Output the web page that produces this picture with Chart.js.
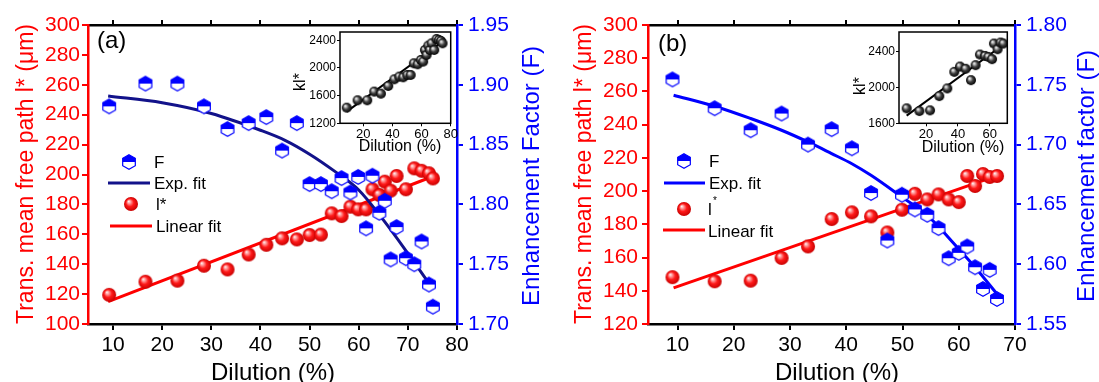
<!DOCTYPE html>
<html>
<head>
<meta charset="utf-8">
<script src="https://cdn.jsdelivr.net/npm/chart.js@4.4.0/dist/chart.umd.min.js"></script>
<style>
html, body { margin: 0; padding: 0; background: #fff; }
#wrap { position: relative; width: 1099px; height: 382px; overflow: hidden; background: #fff; }
#wrap canvas { position: absolute; }
</style>
</head>
<body>
<div id="wrap">
  <canvas id="mainA" width="550" height="382" style="left:0;top:0"></canvas>
  <canvas id="mainB" width="549" height="382" style="left:550px;top:0"></canvas>
  <canvas id="insetA" width="175" height="140" style="left:285px;top:20px"></canvas>
  <canvas id="insetB" width="172" height="140" style="left:845px;top:20px"></canvas>
</div>
<script>
// ---- panel (a) data ----
const A_DILUTION = [9.2, 16.6, 23.1, 28.5, 33.3, 37.6, 41.2, 44.4, 47.4, 50.0, 52.3, 54.5, 56.5,
  58.3, 59.9, 61.5, 62.8, 64.2, 65.3, 66.5, 67.7, 69.6, 71.3, 72.8, 74.3, 75.1];
const A_LSTAR = [119.5, 128.3, 129.0, 139.0, 136.5, 146.5, 153.0, 157.3, 156.6, 159.5, 159.8, 174.0, 172.2,
  178.5, 176.7, 176.7, 190.1, 186.3, 195.2, 189.2, 199.0, 190.1, 204.1, 202.5, 200.8, 197.4];
const A_F = [1.882, 1.901, 1.901, 1.882, 1.863, 1.868, 1.873, 1.845, 1.868, 1.817, 1.817, 1.811, 1.822,
  1.810, 1.823, 1.780, 1.824, 1.793, 1.803, 1.754, 1.781, 1.755, 1.750, 1.769, 1.733, 1.7145];
const A_EXP_X = [9, 20, 30, 40, 45, 50, 55, 60, 65, 70, 75];
const A_EXP_F = [1.8906, 1.885, 1.876, 1.862, 1.8536, 1.842, 1.828, 1.812, 1.787, 1.759, 1.7298];
const A_LIN_X = [9, 75.3];
const A_LIN_L = [115, 199];
const A_INSET_X = [8.6, 16.1, 22.7, 27.5, 32.1, 37.1, 41.3, 44.7, 47.4, 50.2, 52.5, 54.7, 57.3,
  59.5, 61.1, 62.3, 63.4, 64.6, 65.7, 66.9, 68.7, 70.3, 71.9, 73.3, 74.4];
const A_INSET_KL = [1426, 1533, 1533, 1658, 1629, 1740, 1836, 1875, 1865, 1899, 1899, 2068, 2053,
  2116, 2092, 2260, 2188, 2323, 2260, 2357, 2260, 2419, 2405, 2390, 2357];
const A_INSET_FIT_X = [8.6, 76];
const A_INSET_FIT_KL = [1369, 2405];
const A_X_TICKS = [10, 20, 30, 40, 50, 60, 70, 80];
const A_L_TICKS = [100, 120, 140, 160, 180, 200, 220, 240, 260, 280, 300];
const A_F_TICKS = [1.70, 1.75, 1.80, 1.85, 1.90, 1.95];
const A_INSET_X_TICKS = [20, 40, 60, 80];
const A_INSET_Y_TICKS = [1200, 1600, 2000, 2400];

// ---- panel (b) data ----
const B_DILUTION = [9.1, 16.6, 23.0, 28.5, 33.2, 37.4, 41.0, 44.4, 47.3, 49.9, 52.2, 54.4, 56.4,
  58.2, 60.0, 61.5, 62.9, 64.3, 65.5, 66.8];
const B_LSTAR = [148.2, 145.7, 146.1, 159.8, 166.7, 183.2, 187.2, 184.8, 175.1, 188.8, 198.4, 195.0, 198.0,
  195.0, 193.4, 209.1, 203.1, 210.3, 208.5, 209.1];
const B_F = [1.7545, 1.7304, 1.712, 1.726, 1.700, 1.7129, 1.6969, 1.6595, 1.6198, 1.6581, 1.6458, 1.6413, 1.6302,
  1.605, 1.6095, 1.6148, 1.5975, 1.5793, 1.5953, 1.5709];
const B_EXP_X = [9.3, 16.6, 23, 28.5, 33.2, 37.4, 41, 44.4, 49.9, 54.4, 60, 62.9, 66.8];
const B_EXP_F = [1.7413, 1.7321, 1.7218, 1.712, 1.7022, 1.6925, 1.684, 1.6743, 1.6561, 1.6408, 1.6128, 1.5975, 1.5751];
const B_LIN_X = [9.3, 67];
const B_LIN_L = [141.7, 209.5];
const B_INSET_X = [7.8, 15.8, 22.5, 28.3, 33.3, 37.7, 41.3, 44.8, 48.2, 51.1, 53.8, 57.0, 59.1,
  61.4, 62.6, 64.9, 66.8, 68.5];
const B_INSET_KL = [1766, 1736, 1744, 1902, 1987, 2171, 2230, 2205, 2079, 2245, 2363, 2348, 2337,
  2312, 2485, 2422, 2496, 2485];
const B_INSET_FIT_X = [7.8, 69.5];
const B_INSET_FIT_KL = [1685, 2485];
const B_X_TICKS = [10, 20, 30, 40, 50, 60, 70];
const B_L_TICKS = [120, 140, 160, 180, 200, 220, 240, 260, 280, 300];
const B_F_TICKS = [1.55, 1.60, 1.65, 1.70, 1.75, 1.80];
const B_INSET_X_TICKS = [20, 40, 60];
const B_INSET_Y_TICKS = [1600, 2000, 2400];

const RED = '#ff0000';
const BLUE = '#0000ff';
const NAVY = '#12128a';
const FONT = "'Liberation Sans', Arial, sans-serif";

Chart.defaults.font.family = FONT;

function pts(xs, ys) {
  return xs.map((x, i) => ({ x: x, y: ys[i] }));
}

// shaded ball marker
function ball(r, light, mid, dark) {
  const c = document.createElement('canvas');
  const s = Math.ceil(r * 2 + 2);
  c.width = s; c.height = s;
  const g = c.getContext('2d');
  const cx = s / 2, cy = s / 2;
  const grad = g.createRadialGradient(cx - r * 0.35, cy - r * 0.4, 0, cx, cy, r);
  grad.addColorStop(0, '#ffffff');
  grad.addColorStop(0.18, light);
  grad.addColorStop(0.55, mid);
  grad.addColorStop(1, dark);
  g.fillStyle = grad;
  g.beginPath();
  g.arc(cx, cy, r, 0, Math.PI * 2);
  g.fill();
  return c;
}

// hexagon, top half filled
function hexMarker(r, color) {
  const c = document.createElement('canvas');
  const w = Math.ceil(r * 1.732 + 3), h = Math.ceil(r * 2 + 3);
  c.width = w; c.height = h;
  const g = c.getContext('2d');
  const cx = w / 2, cy = h / 2, dx = r * 0.866;
  g.fillStyle = '#fff';
  g.strokeStyle = color;
  g.lineWidth = 1.2;
  g.beginPath();
  g.moveTo(cx, cy - r); g.lineTo(cx + dx, cy - r / 2); g.lineTo(cx + dx, cy + r / 2);
  g.lineTo(cx, cy + r); g.lineTo(cx - dx, cy + r / 2); g.lineTo(cx - dx, cy - r / 2);
  g.closePath();
  g.fill();
  g.stroke();
  g.fillStyle = color;
  g.beginPath();
  g.moveTo(cx, cy - r); g.lineTo(cx + dx, cy - r / 2); g.lineTo(cx + dx, cy);
  g.lineTo(cx - dx, cy); g.lineTo(cx - dx, cy - r / 2);
  g.closePath();
  g.fill();
  return c;
}

const RED_BALL = ball(7, '#ffb4b4', '#ff1a1a', '#c80000');
const BLACK_BALL = ball(5, '#d0d0d0', '#404040', '#000000');
const HEX = hexMarker(7.3, BLUE);

// texts, legend marks and titles drawn on the canvas
const deco = {
  id: 'deco',
  afterDraw(chart, args, opts) {
    const g = chart.ctx;
    (opts.marks || []).forEach(m => {
      if (m.img) {
        g.drawImage(m.img, m.x - m.img.width / 2, m.y - m.img.height / 2);
      } else {
        g.save();
        g.strokeStyle = m.color;
        g.lineWidth = m.width;
        g.beginPath();
        g.moveTo(m.x1, m.y);
        g.lineTo(m.x2, m.y);
        g.stroke();
        g.restore();
      }
    });
    (opts.texts || []).forEach(t => {
      g.save();
      g.translate(t.x, t.y);
      g.rotate(t.rot || 0);
      g.font = t.size + 'px ' + FONT;
      g.fillStyle = t.color || '#000';
      g.textAlign = t.align || 'center';
      g.textBaseline = 'alphabetic';
      g.fillText(t.text, 0, 0);
      g.restore();
    });
  }
};

// white box behind the inset and its frame
const frame = {
  id: 'frame',
  beforeDraw(chart) {
    const a = chart.chartArea, g = chart.ctx;
    g.save();
    g.fillStyle = '#fff';
    g.fillRect(a.left, a.top, a.right - a.left, a.bottom - a.top);
    g.restore();
  },
  afterDraw(chart) {
    const a = chart.chartArea, g = chart.ctx;
    g.save();
    g.strokeStyle = '#000';
    g.lineWidth = 1.5;
    g.strokeRect(a.left, a.top, a.right - a.left, a.bottom - a.top);
    g.restore();
  }
};

function yAxis(pos, min, max, ticks, color, width, pad, fmt) {
  return {
    type: 'linear', axis: 'y', position: pos, min: min, max: max,
    afterBuildTicks: s => { s.ticks = ticks.map(v => ({ value: v })); },
    afterFit: s => { s.width = width; },
    border: { color: color, width: 2.5 },
    grid: { drawOnChartArea: false, color: color, lineWidth: 2, tickLength: 6 },
    ticks: { color: color, font: { size: 21 }, padding: pad, callback: fmt }
  };
}

function mainChart(id, p) {
  return new Chart(document.getElementById(id), {
    type: 'scatter',
    data: {
      datasets: [
        { label: 'F', data: pts(p.dil, p.f), xAxisID: 'x', yAxisID: 'yR',
          pointStyle: HEX, pointRadius: 7 },
        { label: 'Exp. fit', data: pts(p.expX, p.expF), xAxisID: 'x', yAxisID: 'yR',
          showLine: true, pointRadius: 0, borderColor: p.expColor, borderWidth: 3,
          cubicInterpolationMode: 'monotone' },
        { label: 'l*', data: pts(p.dil, p.lstar), xAxisID: 'x', yAxisID: 'yL',
          pointStyle: RED_BALL, pointRadius: 7 },
        { label: 'Linear fit', data: pts(p.linX, p.linL), xAxisID: 'x', yAxisID: 'yL',
          showLine: true, pointRadius: 0, borderColor: RED, borderWidth: 3 }
      ]
    },
    options: {
      responsive: false,
      animation: false,
      events: [],
      layout: { padding: 0 },
      plugins: {
        legend: { display: false },
        tooltip: { enabled: false },
        deco: { marks: p.marks, texts: p.texts }
      },
      scales: {
        x: {
          type: 'linear', axis: 'x', position: 'bottom', min: p.xMin, max: p.xMax,
          afterBuildTicks: s => { s.ticks = p.xTicks.map(v => ({ value: v })); },
          afterFit: s => { s.height = 58; },
          border: { color: '#000', width: 2.5 },
          grid: { drawOnChartArea: false, color: '#000', lineWidth: 2, tickLength: 6 },
          ticks: { color: '#000', font: { size: 21 }, padding: 3, maxRotation: 0 }
        },
        xTop: {
          type: 'linear', axis: 'x', position: 'top', min: p.xMin, max: p.xMax,
          afterBuildTicks: s => { s.ticks = p.xTicks.map(v => ({ value: v })); },
          afterFit: s => { s.height = 25; },
          border: { color: '#000', width: 2.5 },
          grid: { drawOnChartArea: false, color: '#000', lineWidth: 2, tickLength: 5 },
          ticks: { display: false }
        },
        yL: yAxis('left', p.lMin, p.lMax, p.lTicks, RED, p.leftW, p.leftPad, v => String(v)),
        yR: yAxis('right', p.fMin, p.fMax, p.fTicks, BLUE, p.rightW, 5, v => v.toFixed(2))
      }
    },
    plugins: [deco]
  });
}

function insetChart(id, p) {
  return new Chart(document.getElementById(id), {
    type: 'scatter',
    data: {
      datasets: [
        { data: pts(p.x, p.kl), pointStyle: BLACK_BALL, pointRadius: 4 },
        { data: pts(p.fitX, p.fitKl), showLine: true, pointRadius: 0,
          borderColor: '#000', borderWidth: 2 }
      ]
    },
    options: {
      responsive: false,
      animation: false,
      events: [],
      layout: { padding: { top: 12, right: p.padRight, left: 0, bottom: 0 } },
      plugins: {
        legend: { display: false },
        tooltip: { enabled: false },
        deco: { texts: p.texts }
      },
      scales: {
        x: {
          type: 'linear', min: p.xMin, max: p.xMax,
          afterBuildTicks: s => { s.ticks = p.xTicks.map(v => ({ value: v })); },
          afterFit: s => { s.height = p.xh; },
          border: { display: false },
          grid: { drawOnChartArea: false, color: '#000', tickLength: 3 },
          ticks: { color: '#000', font: { size: 13 }, padding: 0, maxRotation: 0, callback: v => String(v) }
        },
        y: {
          type: 'linear', min: p.yMin, max: p.yMax,
          afterBuildTicks: s => { s.ticks = p.yTicks.map(v => ({ value: v })); },
          afterFit: s => { s.width = p.yw; },
          border: { display: false },
          grid: { drawOnChartArea: false, color: '#000', tickLength: 3 },
          ticks: { color: '#000', font: { size: 12 }, padding: 1, callback: v => String(v) }
        }
      }
    },
    plugins: [frame, deco]
  });
}

mainChart('mainA', {
  dil: A_DILUTION, lstar: A_LSTAR, f: A_F,
  expX: A_EXP_X, expF: A_EXP_F, expColor: NAVY,
  linX: A_LIN_X, linL: A_LIN_L,
  xMin: 4.9, xMax: 80, xTicks: A_X_TICKS,
  lMin: 100, lMax: 300, lTicks: A_L_TICKS,
  fMin: 1.70, fMax: 1.95, fTicks: A_F_TICKS,
  leftW: 88, leftPad: 2, rightW: 93,
  marks: [
    { img: HEX, x: 129, y: 162 },
    { x1: 108, x2: 150, y: 183, color: NAVY, width: 3 },
    { img: RED_BALL, x: 131, y: 204 },
    { x1: 110, x2: 152, y: 226, color: RED, width: 3 }
  ],
  texts: [
    { text: 'Trans. mean free path l* (\u03bcm)', x: 33, y: 174, rot: -Math.PI / 2, size: 23, color: RED },
    { text: 'Enhancement Factor (F)', x: 539, y: 176, rot: -Math.PI / 2, size: 24, color: BLUE },
    { text: 'Dilution (%)', x: 273, y: 380, size: 24 },
    { text: '(a)', x: 97, y: 48, size: 24, align: 'left' },
    { text: 'F', x: 154, y: 168, size: 17, align: 'left' },
    { text: 'Exp. fit', x: 154, y: 189, size: 17, align: 'left' },
    { text: 'l*', x: 156, y: 210, size: 17, align: 'left' },
    { text: 'Linear fit', x: 156, y: 232, size: 17, align: 'left' }
  ]
});

mainChart('mainB', {
  dil: B_DILUTION, lstar: B_LSTAR, f: B_F,
  expX: B_EXP_X, expF: B_EXP_F, expColor: BLUE,
  linX: B_LIN_X, linL: B_LIN_L,
  xMin: 4.75, xMax: 70, xTicks: B_X_TICKS,
  lMin: 120, lMax: 300, lTicks: B_L_TICKS,
  fMin: 1.55, fMax: 1.80, fTicks: B_F_TICKS,
  leftW: 98, leftPad: 4, rightW: 84,
  marks: [
    { img: HEX, x: 134, y: 161 },
    { x1: 114, x2: 155, y: 183, color: BLUE, width: 3 },
    { img: RED_BALL, x: 134, y: 209 },
    { x1: 113, x2: 155, y: 230, color: RED, width: 3 }
  ],
  texts: [
    { text: 'Trans. mean free path l* (\u03bcm)', x: 41, y: 174, rot: -Math.PI / 2, size: 23, color: RED },
    { text: 'Enhancement factor (F)', x: 544, y: 176, rot: -Math.PI / 2, size: 24, color: BLUE },
    { text: 'Dilution (%)', x: 287, y: 380, size: 24 },
    { text: '(b)', x: 108, y: 51, size: 24, align: 'left' },
    { text: 'F', x: 159, y: 167, size: 17, align: 'left' },
    { text: 'Exp. fit', x: 159, y: 189, size: 17, align: 'left' },
    { text: 'l', x: 158, y: 215, size: 17, align: 'left' },
    { text: '*', x: 163, y: 204, size: 10, align: 'left' },
    { text: 'Linear fit', x: 158, y: 237, size: 17, align: 'left' }
  ]
});

insetChart('insetA', {
  x: A_INSET_X, kl: A_INSET_KL, fitX: A_INSET_FIT_X, fitKl: A_INSET_FIT_KL,
  xMin: 4, xMax: 80, xTicks: A_INSET_X_TICKS,
  yMin: 1200, yMax: 2520, yTicks: A_INSET_Y_TICKS,
  yw: 55, xh: 36.7, padRight: 9.3,
  texts: [
    { text: 'kl*', x: 20, y: 62, rot: -Math.PI / 2, size: 16 },
    { text: 'Dilution (%)', x: 115, y: 131, size: 16 }
  ]
});

insetChart('insetB', {
  x: B_INSET_X, kl: B_INSET_KL, fitX: B_INSET_FIT_X, fitKl: B_INSET_FIT_KL,
  xMin: 3, xMax: 71, xTicks: B_INSET_X_TICKS,
  yMin: 1600, yMax: 2613, yTicks: B_INSET_Y_TICKS,
  yw: 54, xh: 36.7, padRight: 9.7,
  texts: [
    { text: 'kl*', x: 20, y: 66, rot: -Math.PI / 2, size: 16 },
    { text: 'Dilution (%)', x: 118, y: 132, size: 16 }
  ]
});
</script>
</body>
</html>
